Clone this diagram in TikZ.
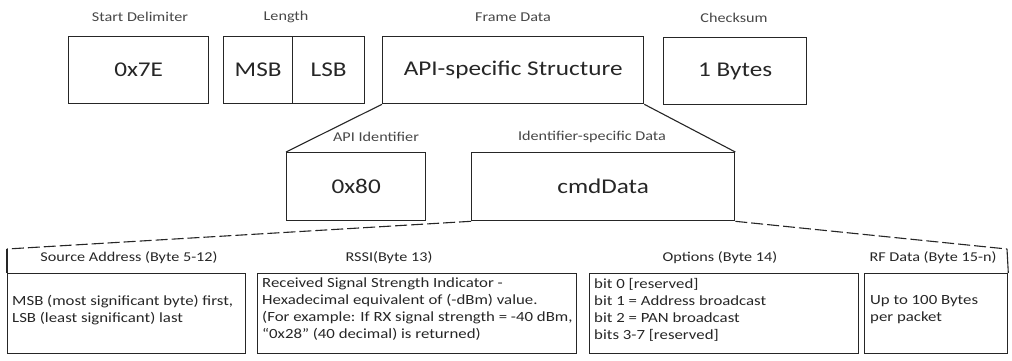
\documentclass[tikz,border=0pt]{standalone}
\usepackage{fontspec}
\setmainfont{Carlito}[FakeStretch=1.2]
\definecolor{ink}{HTML}{262626}
\tikzset{
  field/.style={draw=ink, line width=1.3pt, text=ink, inner sep=0pt,
    anchor=north west, font=\fontsize{21}{24}\selectfont},
  fieldname/.style={text=ink!85, inner sep=0pt, font=\fontsize{13.5}{15}\selectfont},
  head/.style={text=ink, inner sep=0pt, font=\fontsize{13.5}{15}\selectfont},
  part/.style={draw=ink, line width=1.3pt, anchor=north west, inner sep=0pt},
  body/.style={text=ink, inner sep=0pt, anchor=north west, align=left,
    font=\fontsize{14}{17}\selectfont},
  link/.style={draw=ink, line width=1.1pt},
  spread/.style={draw=ink, line width=1.1pt, dash pattern=on 12pt off 4pt},
}
\begin{document}
\begin{tikzpicture}[x=1pt,y=-1pt]
\useasboundingbox (0,0) rectangle (1012,360);

% ---- packet frame ----
\node[fieldname] (lsd) at (140,17) {Start Delimiter};
\node[field, minimum width=140pt, minimum height=67pt] (sd) at (68,36) {0x7E};

\node[fieldname] (llen) at (286,17) {Length};
\node[field, minimum width=69pt, minimum height=67pt] (msb) at (223,36) {MSB};
\node[field, minimum width=72pt, minimum height=67pt] (lsb) at (292,36) {LSB};

\node[fieldname] (lfd) at (513,17) {Frame Data};
\node[field, minimum width=261pt, minimum height=67pt] (api) at (382,36) {API-specific Structure};

\node[fieldname] (lck) at (734,18) {Checksum};
\node[field, minimum width=143pt, minimum height=67pt] (ck) at (663,37) {1 Bytes};

% ---- frame data ----
\node[fieldname] (lid) at (376,137) {API Identifier};
\node[field, minimum width=139pt, minimum height=68pt] (id) at (286,152) {0x80};

\node[fieldname] (lcmd) at (592,137) {Identifier-specific Data};
\node[field, minimum width=263pt, minimum height=68pt] (cmd) at (471,152) {cmdData};

\draw[link] (api.south west) -- (id.north west);
\draw[link] (api.south east) -- (cmd.north east);

% ---- cmdData fields ----
\coordinate (fl) at (7,249);
\coordinate (fr) at (1007,249);
\draw[spread] (cmd.south west) -- (fl);
\draw[spread] (cmd.south east) -- (fr);

\node[part, minimum width=238pt, minimum height=80pt] (src) at (7,273) {};
\node[part, minimum width=319pt, minimum height=80pt] (rssi) at (257,273) {};
\node[part, minimum width=269pt, minimum height=80pt] (opt) at (589,273) {};
\node[part, minimum width=143pt, minimum height=80pt] (rf) at (864,273) {};
\draw[link] (fl) -- (src.north west);
\draw[link] (fr) -- (rf.north east);

\node[head] (hsrc) at (129,258) {Source Address (Byte 5-12)};
\node[head] (hrssi) at (389,258) {RSSI(Byte 13)};
\node[head] (hopt) at (720,258) {Options (Byte 14)};
\node[head] (hrf) at (933,258) {RF Data (Byte 15-n)};

\node[body] (tsrc) at (12,295) {MSB (most significant byte) first,\\LSB (least significant) last};
\node[body] (trssi) at (262,278) {Received Signal Strength Indicator -\\Hexadecimal equivalent of (-dBm) value.\\(For example: If RX signal strength = -40 dBm,\\“0x28” (40 decimal) is returned)};
\node[body] (topt) at (594,278) {bit 0 [reserved]\\bit 1 = Address broadcast\\bit 2 = PAN broadcast\\bits 3-7 [reserved]};
\node[body] (trf) at (870,295) {Up to 100 Bytes\\per packet};
\end{tikzpicture}
\end{document}
